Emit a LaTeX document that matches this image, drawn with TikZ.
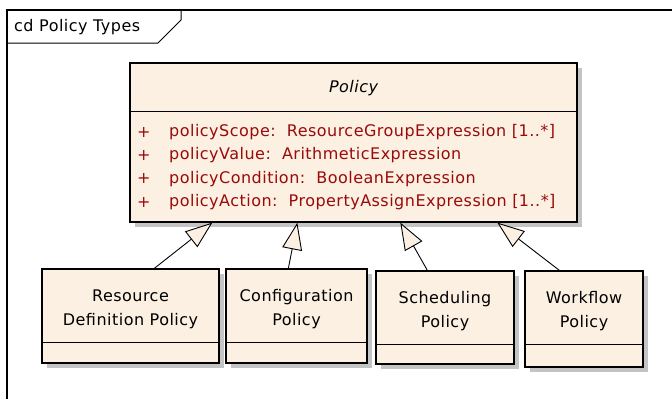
\documentclass[tikz,border=0pt]{standalone}
\usepackage{fontspec}
\setmainfont{DejaVu Sans}[LetterSpace=3]
\usetikzlibrary{positioning,arrows.meta,calc,shadows}

\definecolor{umlfill}{HTML}{FBF0E2}
\definecolor{umlattr}{HTML}{9A0A0A}
\definecolor{umlshadow}{HTML}{C4C4C4}

\tikzset{
  cls/.style={draw, line width=1.3pt, fill=umlfill, inner sep=0pt,
    drop shadow={shadow xshift=5pt, shadow yshift=-5pt, fill=umlshadow, opacity=1}},
  sep/.style={line width=1.4pt},
  attr/.style={text=umlattr, anchor=west, inner sep=0pt},
  inherit/.style={-{Triangle[open, length=27pt, width=20pt, fill=umlfill]}, line width=0.9pt},
}

\begin{document}
\begin{tikzpicture}[x=1pt, y=-1pt, font=\fontsize{16}{24}\selectfont]
        \useasboundingbox (0,0) rectangle (672,399);

        % diagram frame and its name tab
        \draw[line width=1.2pt] (7,399) -- (7,10) -- (672,10);
        \draw[line width=1pt] (7,43) -- (158,43) -- (181,20) -- (181,10);
        \node[anchor=west, inner sep=0pt] (frametitle) at (14,27) {cd Policy Types};

        % abstract base class
        \node[cls, minimum width=447, minimum height=159] (policy) at (353.5,142.5) {};
        \node[font=\fontsize{16}{18}\selectfont\itshape] (policytitle) at (353.5,88) {Policy};
        \draw[sep] ($(policy.north west)+(0,-49pt)$) -- ($(policy.north east)+(0,-49pt)$);
        \foreach \txt [count=\i] in {{policyScope:\ \ ResourceGroupExpression [1..*]},
                                     {policyValue:\ \ ArithmeticExpression},
                                     {policyCondition:\ \ BooleanExpression},
                                     {policyAction:\ \ PropertyAssignExpression [1..*]}} {
            \node[attr] (plus\i) at (137,{132+23.4*(\i-1)}) {+};
            \node[attr] (attr\i) at (169,{132+23.4*(\i-1)}) {\txt};
        }

        % subclasses
        \node[cls, minimum width=177, minimum height=94] (resdef) at (130.5,316) {};
        \node[align=center] (resdeftxt) at (130.5,309) {Resource\\Definition Policy};
        \draw[sep] ($(resdef.south west)+(0,21pt)$) -- ($(resdef.south east)+(0,21pt)$);

        \node[cls, minimum width=141, minimum height=94] (config) at (296.5,316) {};
        \node[align=center] (configtxt) at (296.5,309) {Configuration\\Policy};
        \draw[sep] ($(config.south west)+(0,21pt)$) -- ($(config.south east)+(0,21pt)$);

        \node[cls, minimum width=138, minimum height=93] (sched) at (445,317.5) {};
        \node[align=center] (schedtxt) at (445,311) {Scheduling\\Policy};
        \draw[sep] ($(sched.south west)+(0,20pt)$) -- ($(sched.south east)+(0,20pt)$);

        \node[cls, minimum width=118, minimum height=96] (workflow) at (584,319) {};
        \node[align=center] (workflowtxt) at (584,311) {Workflow\\Policy};
        \draw[sep] ($(workflow.south west)+(0,23pt)$) -- ($(workflow.south east)+(0,23pt)$);

        % generalisations
        \draw[inherit] ($(resdef.north west)+(113pt,0)$) -- ($(policy.south west)+(83pt,0)$);
        \draw[inherit] ($(config.north west)+(63pt,0)$) -- ($(policy.south west)+(168pt,0)$);
        \draw[inherit] ($(sched.north west)+(52pt,0)$) -- ($(policy.south west)+(271pt,0)$);
        \draw[inherit] ($(workflow.north west)+(35pt,0)$) -- ($(policy.south west)+(368pt,0)$);
    \end{tikzpicture}
\end{document}
